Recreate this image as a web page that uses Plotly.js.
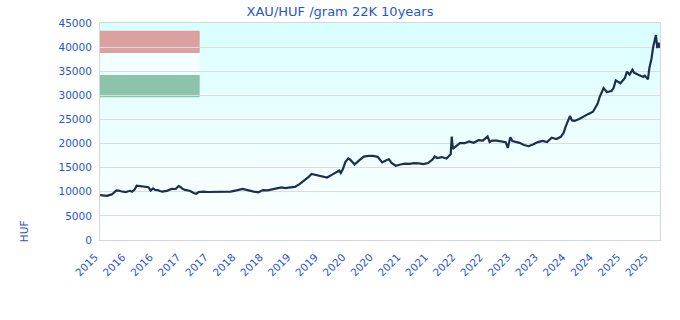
<!DOCTYPE html>
<html>
<head>
<meta charset="utf-8">
<script src="https://cdn.plot.ly/plotly-3.0.1.min.js"></script>
<style>
html,body{margin:0;padding:0;background:#ffffff;}
#chart{width:680px;height:320px;}
</style>
</head>
<body>
<div id="chart"></div>
<script>
// ---- data ----
const dates = [
"2015-10-16","2015-11-01","2015-11-15","2015-12-01","2015-12-15","2016-01-01","2016-01-15","2016-02-01","2016-02-15","2016-03-01",
"2016-04-01","2016-05-01","2016-05-15","2016-06-01","2016-06-15","2016-07-01","2016-07-15","2016-08-01","2016-09-01","2016-09-15",
"2016-10-01","2016-10-15","2016-11-01","2016-11-15","2016-12-01","2017-01-01","2017-02-01","2017-03-01","2017-03-20","2017-04-01",
"2017-04-15","2017-05-01","2017-06-01","2017-07-01","2017-07-15","2017-08-01","2017-09-01","2017-10-01","2017-11-01","2017-12-01",
"2018-01-01","2018-02-01","2018-03-01","2018-04-01","2018-05-01","2018-05-20","2018-06-01","2018-07-01","2018-08-01","2018-09-01",
"2018-10-01","2018-11-01","2018-12-01","2019-01-01","2019-02-01","2019-03-01","2019-04-01","2019-05-01","2019-06-01","2019-07-01",
"2019-08-01","2019-08-20","2019-09-01","2019-10-01","2019-11-01","2019-12-01","2020-01-01","2020-02-01","2020-02-20","2020-03-01",
"2020-03-15","2020-04-01","2020-04-20","2020-05-01","2020-06-01","2020-07-01","2020-07-15","2020-08-01","2020-09-01","2020-10-01",
"2020-11-01","2020-12-01","2021-01-01","2021-01-15","2021-02-01","2021-03-01","2021-04-01","2021-05-01","2021-06-01","2021-07-01",
"2021-08-01","2021-09-01","2021-10-01","2021-11-01","2021-11-15","2021-12-01","2022-01-01","2022-02-01","2022-03-01","2022-03-08",
"2022-03-15","2022-04-01","2022-05-01","2022-06-01","2022-07-01","2022-08-01","2022-09-01","2022-10-01","2022-11-01","2022-11-15",
"2022-12-01","2023-01-01","2023-02-01","2023-03-01","2023-03-15","2023-04-01","2023-04-15","2023-05-01","2023-06-01","2023-07-01",
"2023-08-01","2023-09-01","2023-10-01","2023-11-01","2023-12-01","2024-01-01","2024-02-01","2024-03-01","2024-03-20","2024-04-01",
"2024-04-15","2024-05-01","2024-05-15","2024-06-01","2024-07-01","2024-08-01","2024-09-01","2024-10-01","2024-11-01","2024-11-15",
"2024-12-01","2024-12-10","2025-01-01","2025-02-01","2025-02-15","2025-03-01","2025-04-01","2025-05-01","2025-05-15","2025-06-01",
"2025-06-20","2025-07-01","2025-08-01","2025-09-01","2025-09-10","2025-10-01","2025-10-10","2025-10-25","2025-11-05","2025-11-23",
"2025-12-02","2025-12-11","2025-12-20"
];
const priceHUF = [
9300,9200,9100,9150,9300,9450,9800,10300,10250,10100,
9950,10200,10000,10450,11250,11200,11150,10950,10950,10250,
10700,10400,10350,10150,10050,10200,10600,10580,11200,11000,
10600,10380,10220,9700,9600,9950,10050,9950,9980,9950,
9950,10050,10050,10250,10450,10600,10500,10200,10040,9900,
10350,10300,10550,10700,10900,10750,10900,11000,11600,12250,
13100,13700,13600,13350,13200,12950,13500,14150,14400,13900,
14700,16200,16900,16700,15650,16500,16800,17300,17450,17450,
17250,16100,16600,16750,16000,15400,15650,15850,15800,15950,
15900,15720,15950,16700,17300,17000,17200,16900,17800,21450,
18900,19400,20080,20080,20450,20150,20700,20600,21500,20300,
20600,20600,20400,20300,19100,21300,20500,20350,20150,19700,
19450,19850,20300,20550,20300,21200,20950,21400,22200,23400,
24500,25700,24800,24700,25100,25700,26150,26600,28300,29700,
30800,31500,30700,30900,31500,33100,32500,33600,34900,34300,
35300,34700,34200,33800,34100,33300,35600,37700,40100,42500,
39800,40900,39800
];
const xRange = ["2015-10-15","2025-12-20"];
const xTickVals = [
"2015-10-15","2016-04-15","2016-10-15","2017-04-15","2017-10-15","2018-04-15","2018-10-15",
"2019-04-15","2019-10-15","2020-04-15","2020-10-15","2021-04-15","2021-10-15","2022-04-15",
"2022-10-15","2023-04-15","2023-10-15","2024-04-15","2024-10-15","2025-04-15","2025-10-15"
];
const xTickText = [
"2015","2016","2016","2017","2017","2018","2018","2019","2019","2020","2020",
"2021","2021","2022","2022","2023","2023","2024","2024","2025","2025"
];
const yTickVals = [0,5000,10000,15000,20000,25000,30000,35000,40000,45000];
const yRange = [0,45000];
const titleText = "XAU/HUF /gram 22K 10years";
const yLabel = "HUF";

const blue = "#1f55d6";
const font = "DejaVu Sans, Verdana, sans-serif";

const gradSvg = "data:image/svg+xml;utf8," + encodeURIComponent(
 '<svg xmlns="http://www.w3.org/2000/svg" width="10" height="100" preserveAspectRatio="none">' +
 '<defs><linearGradient id="g" x1="0" y1="0" x2="0" y2="1">' +
 '<stop offset="0" stop-color="#d8fffe"/><stop offset="1" stop-color="#ffffff"/></linearGradient></defs>' +
 '<rect width="10" height="100" fill="url(#g)"/></svg>');

const trace = {
  x: dates, y: priceHUF, type: "scatter", mode: "lines",
  line: {color: "#1b2f50", width: 2.2},
  hoverinfo: "x+y"
};

const layout = {
  width: 680, height: 320,
  margin: {l: 100, r: 20, t: 23, b: 80, pad: 0},
  paper_bgcolor: "#ffffff",
  plot_bgcolor: "rgba(0,0,0,0)",
  showlegend: false,
  font: {family: font, size: 10.5, color: blue},
  title: {text: titleText, font: {family: font, size: 13, color: blue}, x: 0.5, xref: "container", y: 0.964, yref: "container", yanchor: "middle"},
  xaxis: {
    type: "date", range: xRange, tickvals: xTickVals, ticktext: xTickText,
    tickangle: -45, showgrid: false, zeroline: false,
    showline: true, linecolor: "#d6d6d6", linewidth: 1, mirror: true,
    ticks: "", ticklabelshift: -5, ticklabelstandoff: 6,
    tickfont: {family: font, size: 10.5, color: blue}
  },
  yaxis: {
    range: yRange, tickvals: yTickVals, tickformat: "d",
    showgrid: true, gridcolor: "#dcdcdc", gridwidth: 1, zeroline: false,
    showline: true, linecolor: "#d6d6d6", linewidth: 1, mirror: true,
    ticks: "outside", ticklen: 5, tickcolor: "rgba(0,0,0,0)",
    tickfont: {family: font, size: 10.5, color: blue}
  },
  images: [{source: gradSvg, xref: "paper", yref: "paper", x: 0, y: 1, sizex: 1, sizey: 1,
            xanchor: "left", yanchor: "top", sizing: "stretch", layer: "below"}],
  shapes: [
    {type: "rect", xref: "paper", yref: "y", x0: 0, x1: 0.178, y0: 38800, y1: 43400,
     fillcolor: "#dba09f", line: {width: 0}, layer: "below"},
    {type: "rect", xref: "paper", yref: "y", x0: 0, x1: 0.178, y0: 34200, y1: 38800,
     fillcolor: "rgba(255,255,255,0.6)", line: {width: 0}, layer: "below"},
    {type: "rect", xref: "paper", yref: "y", x0: 0, x1: 0.178, y0: 29600, y1: 34200,
     fillcolor: "#8cc3ab", line: {width: 0}, layer: "below"}
  ],
  annotations: [
    {text: yLabel, xref: "paper", yref: "paper", x: -0.136, y: -0.02, xanchor: "center", yanchor: "bottom",
     textangle: -90, showarrow: false, font: {family: font, size: 10.5, color: blue}}
  ]
};

Plotly.newPlot("chart", [trace], layout, {displayModeBar: false, staticPlot: true});
</script>
</body>
</html>
